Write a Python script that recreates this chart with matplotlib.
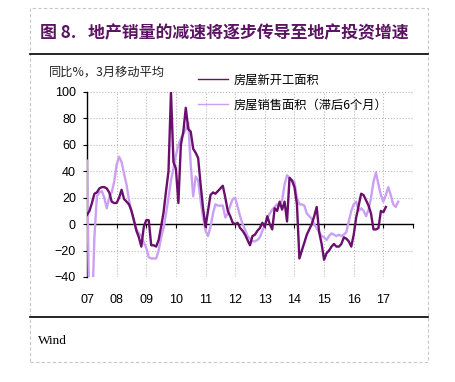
import matplotlib
matplotlib.use("Agg")
import matplotlib.pyplot as plt
import matplotlib.patches as mpatches
import matplotlib.lines as mlines
import numpy as np

# ── DATA (monthly, starting Jan 2007) ────────────────────────
start_year = 2007

new_starts = [  # 房屋新开工面积, 3m MA yoy %
    7, 10, 16, 23, 24, 27, 28, 28, 27, 24, 17, 16,          # 2007
    16, 20, 26, 19, 17, 15, 10, 3, -5, -10, -17, -2,        # 2008
    3, 3, -16, -16, -17, -12, -2, 9, 25, 40, 100, 47,       # 2009
    42, 16, 60, 70, 88, 72, 70, 57, 54, 50, 30, 12,         # 2010
    -2, 10, 22, 24, 23, 25, 27, 29, 20, 10, 6, 1,           # 2011
    0, 1, -3, -5, -8, -12, -16, -9, -8, -5, -3, 1,          # 2012
    -2, 6, 0, -4, 12, 10, 17, 11, 17, 2, 35, 33,            # 2013
    28, 15, -26, -20, -14, -8, -4, 0, 6, 13, -6, -15,       # 2014
    -27, -22, -20, -17, -15, -17, -17, -15, -10, -11, -13, -17,  # 2015
    -8, 5, 14, 23, 22, 18, 14, 8, -4, -4, -3, 10,           # 2016
    9, 13,                                                  # 2017
]

sales_lag6 = [  # 房屋销售面积（滞后6个月）
    48, -80, -70, -10, 21, 24, 25, 20, 12, 20, 24, 32,      # 2007
    45, 51, 47, 38, 30, 18, 10, 2, -4, -7, -9, -14,         # 2008
    -18, -25, -26, -26, -26, -20, -10, -3, 8, 20, 33, 42,   # 2009
    52, 60, 65, 68, 72, 77, 45, 21, 36, 33, 18, 5,          # 2010
    -5, -9, -2, 8, 15, 14, 14, 14, 5, 8, 14, 19,            # 2011
    20, 13, 6, 0, -4, -9, -11, -13, -13, -12, -10, -5,      # 2012
    -1, 5, 8, 11, 13, 15, 15, 18, 30, 37, 35, 33,           # 2013
    32, 20, 15, 15, 14, 8, 6, 4, 0, -3, -6, -9,             # 2014
    -10, -12, -9, -7, -8, -9, -8, -9, -8, -6, 2, 10,        # 2015
    15, 17, 10, 12, 10, 6, 11, 20, 32, 39, 30, 22,          # 2016
    17, 22, 28, 22, 15, 13, 17,                             # 2017
]

year_labels = ['07', '08', '09', '10', '11', '12', '13', '14', '15', '16', '17']
series_names = ['房屋新开工面积', '房屋销售面积（滞后6个月）']

t_new = start_year + np.arange(len(new_starts)) / 12
t_sales = start_year + np.arange(len(sales_lag6)) / 12

# ── STYLE ────────────────────────────────────────────────────
cjk = ['Noto Sans CJK SC', 'DejaVu Sans']
plt.rcParams['font.family'] = ['Liberation Sans', 'Noto Sans CJK SC', 'DejaVu Sans']

dark_purple = '#6B0F6E'
light_purple = '#CBA0F3'
title_color = '#5A1462'

fig = plt.figure(figsize=(4.56, 3.82), dpi=100)
fig.patch.set_facecolor('white')

# outer dashed frame + separator rules
fig.add_artist(mpatches.Rectangle((0.0658, 0.0524), 0.8728, 0.9266,
                                  transform=fig.transFigure, fill=False,
                                  edgecolor='#c8c8c8', lw=0.8, ls=(0, (3, 2))))
fig.add_artist(mlines.Line2D([0.0658, 0.9386], [0.8586, 0.8586],
                             transform=fig.transFigure, color='black', lw=1.2))
fig.add_artist(mlines.Line2D([0.0658, 0.9386], [0.1702, 0.1702],
                             transform=fig.transFigure, color='black', lw=1.2))

fig.text(0.088, 0.913, '图 8.   地产销量的减速将逐步传导至地产投资增速',
         fontsize=12.2, fontweight='bold', color=title_color,
         family=cjk, va='center', ha='left')
fig.text(0.083, 0.107, 'Wind', fontsize=9.5, family='Liberation Serif',
         va='center', ha='left')
fig.text(0.108, 0.812, '同比%，3月移动平均', fontsize=8.8, family=cjk,
         va='center', ha='left', color='#222222')

# ── AXES ─────────────────────────────────────────────────────
ax = fig.add_axes([0.1908, 0.2749, 0.7149, 0.4843])
ax.plot(t_sales, sales_lag6, color=light_purple, lw=1.7, zorder=3)
ax.plot(t_new, new_starts, color=dark_purple, lw=1.7, zorder=4)

ax.set_xlim(2007, 2018)
ax.set_ylim(-40, 100)
ax.set_yticks(np.arange(-40, 101, 20))
ax.set_xticks(np.arange(2007, 2019))

ax.grid(True, color='#b8b8b8', ls=':', lw=0.8)
ax.set_axisbelow(True)

for s in ['top', 'right']:
    ax.spines[s].set_visible(False)
ax.spines['left'].set_color('black')
ax.spines['left'].set_linewidth(1.0)
ax.spines['bottom'].set_position(('data', 0))
ax.spines['bottom'].set_linewidth(1.0)
ax.spines['bottom'].set_zorder(2)

ax.tick_params(axis='y', direction='out', length=3, width=0.8, labelsize=9,
               pad=5, colors='black')
ax.tick_params(axis='x', direction='out', length=3, width=0.8,
               labelbottom=False)

# year labels on a secondary axis at the bottom
sec = ax.secondary_xaxis('bottom')
sec.set_xticks(np.arange(2007, 2018))
sec.set_xticklabels(year_labels)
sec.spines['bottom'].set_visible(False)
sec.tick_params(length=0, labelsize=9, pad=12)

# legend drawn above / inside the top of the plot area
ax.legend([mlines.Line2D([], [], color=dark_purple, lw=1.0),
           mlines.Line2D([], [], color=light_purple, lw=1.0)],
          series_names, loc='upper left', bbox_to_anchor=(0.325, 1.128),
          frameon=False, prop={'family': cjk, 'size': 8.8},
          handlelength=2.5, handletextpad=0.45, labelspacing=0.98,
          borderaxespad=0)

fig.savefig('out.png', dpi=100, facecolor='white')
